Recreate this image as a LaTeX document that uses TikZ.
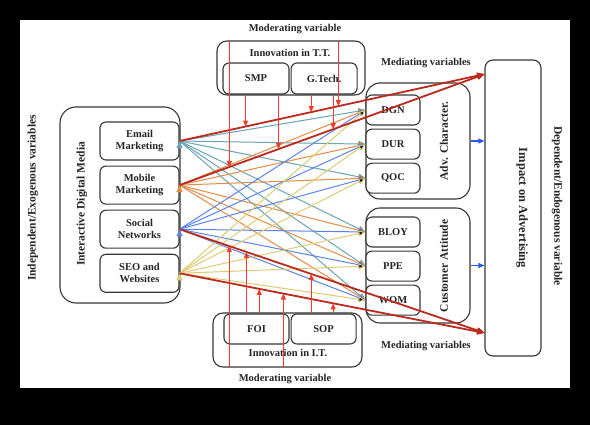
\documentclass[tikz,border=0pt]{standalone}
\usepackage{fontspec}
\setmainfont{Liberation Serif}
\usetikzlibrary{positioning,arrows.meta}
\definecolor{boxgray}{RGB}{55,55,55}
\definecolor{emailc}{RGB}{105,165,180}
\definecolor{mobilec}{RGB}{228,140,70}
\definecolor{socialc}{RGB}{90,132,235}
\definecolor{seoc}{RGB}{222,204,115}
\definecolor{effred}{RGB}{188,42,30}
\definecolor{modred}{RGB}{236,62,42}
\definecolor{flowblue}{RGB}{40,90,232}
\begin{document}
\begin{tikzpicture}[x=1pt,y=-1pt]
\tikzstyle{lbl} = [font=\fontsize{10.5}{12}\selectfont\bfseries, text=black!85, align=center, inner sep=0pt]
\tikzstyle{sidelbl} = [lbl, font=\fontsize{11.5}{13}\selectfont\bfseries]
\tikzstyle{roundbox} = [lbl, rectangle, rounded corners=6pt, draw=boxgray, line width=1.1pt, fill=white]
\tikzstyle{srcbox} = [roundbox, minimum width=79pt, minimum height=38pt]
\tikzstyle{medbox} = [roundbox, minimum width=54pt, minimum height=30pt]
\tikzstyle{modbox} = [roundbox, minimum width=66pt, minimum height=31pt]
\tikzstyle{groupbox} = [rectangle, rounded corners=14pt, draw=boxgray, line width=1.1pt, inner sep=0pt]
\tikzstyle{emailline} = [draw=emailc, line width=1pt, -{Triangle[length=7pt,width=6pt]}]
\tikzstyle{mobileline} = [draw=mobilec, line width=1pt, -{Triangle[length=7pt,width=6pt]}]
\tikzstyle{socialline} = [draw=socialc, line width=1pt, -{Triangle[length=7pt,width=6pt]}]
\tikzstyle{seoline} = [draw=seoc, line width=1pt, -{Triangle[length=7pt,width=6pt]}]
\tikzstyle{effect} = [draw=effred, line width=1.8pt, -{Triangle[length=8pt,width=6pt]}]
\tikzstyle{moder} = [draw=modred, line width=1pt, -{Triangle[length=6pt,width=5pt]}]
\tikzstyle{flow} = [draw=flowblue, line width=1.3pt, -{Triangle[length=6pt,width=5pt]}]
% frame
\fill[black] (0,0) rectangle (590,425);
\fill[white] (20,20) rectangle (570,388);
% group boxes
\node (idm) [groupbox, rounded corners=16pt, minimum width=120pt, minimum height=196pt] at (120,205) {};
\node (tt) [groupbox, rounded corners=10pt, minimum width=148pt, minimum height=54pt] at (291,68) {};
\node (it) [groupbox, rounded corners=10pt, minimum width=149pt, minimum height=54pt] at (287.5,340) {};
\node (adv) [groupbox, minimum width=104pt, minimum height=116pt] at (418,141) {};
\node (cust) [groupbox, minimum width=104pt, minimum height=115pt] at (418,265.5) {};
\node (imp) [groupbox, rounded corners=8pt, minimum width=56pt, minimum height=296pt] at (513,208) {};
\coordinate (imptop) at (485,74);
\coordinate (impbot) at (485,333);
% inner boxes
\node (em) [srcbox] at (139.5,141) {Email\\Marketing};
\node (mob) [srcbox, below=5pt of em] {Mobile\\Marketing};
\node (soc) [srcbox, below=5pt of mob] {Social\\Networks};
\node (seo) [srcbox, below=5pt of soc] {SEO and\\Websites};
\node (smp) [modbox] at (256,78.5) {SMP};
\node (gtech) [modbox, right=1pt of smp] {G.Tech.};
\node (foi) [modbox, minimum width=65pt, minimum height=30pt] at (256.5,329) {FOI};
\node (sop) [modbox, minimum width=65pt, minimum height=30pt, right=1pt of foi] {SOP};
\node (dgn) [medbox] at (393,110) {DGN};
\node (dur) [medbox, below=3pt of dgn] {DUR};
\node (qoc) [medbox, below=3pt of dur] {QOC};
\node (bloy) [medbox] at (393,232) {BLOY};
\node (ppe) [medbox, below=3pt of bloy] {PPE};
\node (wom) [medbox, below=3pt of ppe] {WOM};
% labels
\node (modtop) [lbl] at (295,29) {Moderating variable};
\node (modbot) [lbl] at (285,379) {Moderating variable};
\node (ttlbl) [lbl] at (290,53) {Innovation in T.T.};
\node (itlbl) [lbl] at (288,353) {Innovation in I.T.};
\node (medtop) [lbl] at (426,63) {Mediating variables};
\node (medbot) [lbl] at (426,346) {Mediating variables};
\node (indep) [sidelbl, rotate=90] at (33,198) {Independent/Exogenous variables};
\node (idmlbl) [sidelbl, rotate=90] at (82,204) {Interactive Digital Media};
\node (advlbl) [sidelbl, rotate=90] at (444,141) {Adv. Character.};
\node (custlbl) [sidelbl, rotate=90] at (444,266) {Customer Attitude};
\node (implbl) [sidelbl, font=\fontsize{12.5}{14}\selectfont\bfseries, rotate=-90] at (522,208) {Impact on Advertising};
\node (dep) [sidelbl, rotate=-90] at (557,206) {Dependent/Endogenous variable};
% paths to mediators
\draw[emailline] (em.east) edge (dgn.west) edge (dur.west) edge (qoc.west) edge (bloy.west) edge (ppe.west) edge (wom.west);
\draw[mobileline] (mob.east) edge (dgn.west) edge (dur.west) edge (qoc.west) edge (bloy.west) edge (ppe.west) edge (wom.west);
\draw[socialline] (soc.east) edge (dgn.west) edge (dur.west) edge (qoc.west) edge (bloy.west) edge (ppe.west) edge (wom.west);
\draw[seoline] (seo.east) edge (dgn.west) edge (dur.west) edge (qoc.west) edge (bloy.west) edge (ppe.west) edge (wom.west);
% direct effects
\draw[effect] (em.east) -- coordinate[pos=0.216] (e1) coordinate[pos=0.431] (e2) coordinate[pos=0.520] (e3) (imptop);
\draw[effect] (mob.east) -- coordinate[pos=0.163] (m1) coordinate[pos=0.324] (m2) coordinate[pos=0.503] (m3) (imptop);
\draw[effect] (soc.east) -- coordinate[pos=0.163] (s1) coordinate[pos=0.219] (s2) coordinate[pos=0.431] (s3) (impbot);
\draw[effect] (seo.east) -- coordinate[pos=0.261] (w1) coordinate[pos=0.340] (w2) coordinate[pos=0.503] (w3) (impbot);
% moderators
\draw[moder] (m1 |- tt.north) -- (m1);
\draw[moder] (e3 |- tt.north) -- (e3);
\draw[moder] (e1 |- tt.south) -- (e1);
\draw[moder] (m2 |- tt.south) -- (m2);
\draw[moder] (e2 |- tt.south) -- (e2);
\draw[moder] (m3 |- tt.south) -- (m3);
\draw[moder] (s1 |- it.south) -- (s1);
\draw[moder] (w2 |- it.south) -- (w2);
\draw[moder] (s2 |- it.north) -- (s2);
\draw[moder] (w1 |- it.north) -- (w1);
\draw[moder] (s3 |- it.north) -- (s3);
\draw[moder] (w3 |- it.north) -- (w3);
% mediators to impact
\draw[flow] (adv.east) -- (adv.east -| imp.west);
\draw[flow] (cust.east) -- (cust.east -| imp.west);
\end{tikzpicture}
\end{document}
